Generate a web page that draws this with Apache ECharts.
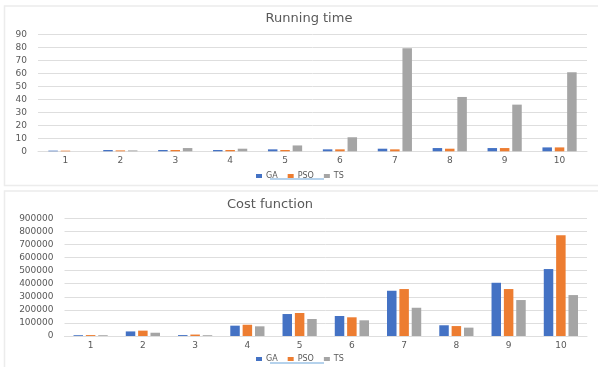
<!DOCTYPE html>
<html>
<head>
<meta charset="utf-8">
<script src="https://cdn.jsdelivr.net/npm/echarts@6/dist/echarts.min.js"></script>
<style>
  html, body { margin: 0; padding: 0; background: #ffffff; }
  #chart { width: 598px; height: 367px; }
</style>
</head>
<body>
<div id="chart"></div>
<script>
// Runs 1..10 compared across three algorithms
const categories = ['1', '2', '3', '4', '5', '6', '7', '8', '9', '10'];
const seriesNames = ['GA', 'PSO', 'TS'];

// Running time per run
const timeGA  = [0.5, 1, 1, 1, 1.5, 1.5, 2, 2.5, 2.5, 3];
const timePSO = [0.5, 0.7, 1, 1, 1, 1.5, 1.5, 2, 2.5, 3];
const timeTS  = [0, 0.7, 2.5, 2, 4.5, 10.8, 79.3, 41.8, 35.9, 60.8];

// Cost function per run
const costGA  = [6000, 35000, 7000, 79000, 168000, 153000, 346000, 82000, 407000, 512000];
const costPSO = [7000, 41000, 11000, 86000, 176000, 143000, 359000, 76000, 359000, 770000];
const costTS  = [6000, 25000, 6000, 74000, 130000, 120000, 216000, 64000, 275000, 313000];

const colors = ['#4472C4', '#ED7D31', '#A5A5A5'];
const textColor = '#595959';
const gridColor = '#dedede';
const font = 'DejaVu Sans';

const chart = echarts.init(document.getElementById('chart'), null, { renderer: 'canvas' });

function yAxis(gridIndex, max, interval) {
  return {
    type: 'value', gridIndex: gridIndex, min: 0, max: max, interval: interval,
    axisLine: { show: false }, axisTick: { show: false },
    axisLabel: { color: textColor, fontSize: 9, fontFamily: font, margin: 11,
                 formatter: function (v) { return String(v); } },
    splitLine: { lineStyle: { color: gridColor, width: 1 } }
  };
}
function xAxis(gridIndex) {
  return {
    type: 'category', gridIndex: gridIndex, data: categories,
    axisLine: { lineStyle: { color: gridColor } }, axisTick: { show: false },
    axisLabel: { color: textColor, fontSize: 9, fontFamily: font, margin: 5 }
  };
}
function bars(name, data, idx) {
  return {
    name: name, type: 'bar', xAxisIndex: idx, yAxisIndex: idx, data: data,
    barWidth: 9.5, barGap: '30%', itemStyle: { color: colors[seriesNames.indexOf(name)] },
    animation: false
  };
}

chart.setOption({
  animation: false,
  title: [
    { text: 'Running time', left: 309, top: 12, textAlign: 'center', padding: 0,
      textStyle: { color: textColor, fontSize: 13, fontWeight: 'normal', fontFamily: font } },
    { text: 'Cost function', left: 270, top: 198, textAlign: 'center', padding: 0,
      textStyle: { color: textColor, fontSize: 13, fontWeight: 'normal', fontFamily: font } }
  ],
  legend: [
    { data: seriesNames, left: 256, top: 172, padding: 0, itemWidth: 6, itemHeight: 4, itemGap: 10,
      icon: 'rect', textStyle: { color: textColor, fontSize: 8, fontFamily: font, padding: [0, 0, 0, -1] } },
    { data: seriesNames, left: 256, top: 355, padding: 0, itemWidth: 6, itemHeight: 4, itemGap: 10,
      icon: 'rect', textStyle: { color: textColor, fontSize: 8, fontFamily: font, padding: [0, 0, 0, -1] } }
  ],
  grid: [
    { left: 38, right: 11, top: 34.3, bottom: 367 - 151.3 },
    { left: 64.5, right: 11, top: 218.3, bottom: 367 - 336 }
  ],
  xAxis: [xAxis(0), xAxis(1)],
  yAxis: [yAxis(0, 90, 10), yAxis(1, 900000, 100000)],
  series: [
    bars('GA', timeGA, 0), bars('PSO', timePSO, 0), bars('TS', timeTS, 0),
    bars('GA', costGA, 1), bars('PSO', costPSO, 1), bars('TS', costTS, 1)
  ],
  graphic: [
    // chart frames
    { type: 'rect', shape: { x: 4.5, y: 6, width: 600, height: 179.5 },
      style: { fill: 'none', stroke: '#ececec', lineWidth: 1.5 }, silent: true },
    { type: 'rect', shape: { x: 4.5, y: 191, width: 600, height: 200 },
      style: { fill: 'none', stroke: '#ececec', lineWidth: 1.5 }, silent: true },
    // underline beneath the first legend entries
    { type: 'line', shape: { x1: 270, y1: 179, x2: 324, y2: 179 },
      style: { stroke: '#9dc3e6', lineWidth: 1.5 }, silent: true },
    { type: 'line', shape: { x1: 270, y1: 363, x2: 324, y2: 363 },
      style: { stroke: '#9dc3e6', lineWidth: 1.5 }, silent: true }
  ]
});
</script>
</body>
</html>
